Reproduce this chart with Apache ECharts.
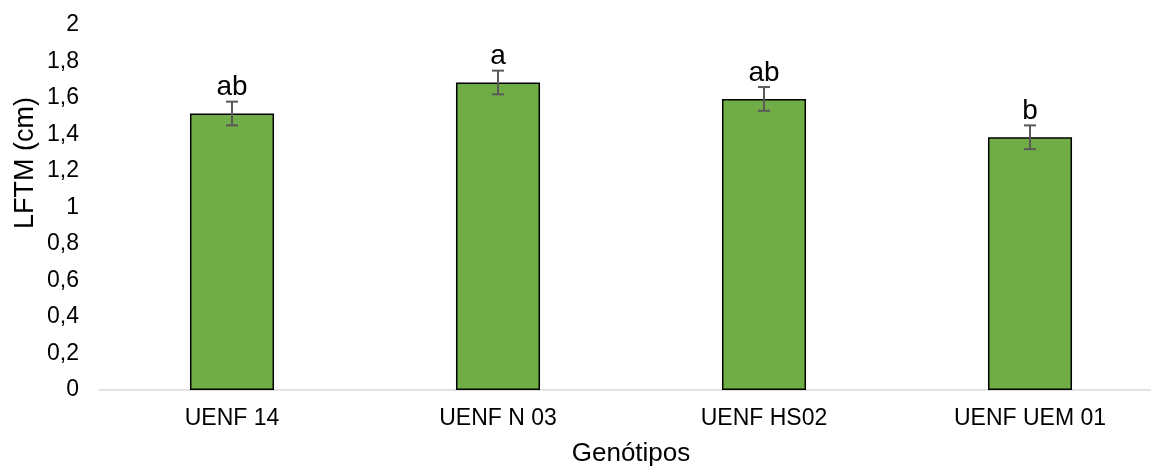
<!DOCTYPE html>
<html><head><meta charset="utf-8">
<script src="https://cdn.jsdelivr.net/npm/echarts@6/dist/echarts.min.js"></script>
<style>html,body{margin:0;padding:0;background:#fff}#c{width:1151px;height:468px}</style>
</head><body><div id="c"></div>
<script>
var categories = ['UENF 14', 'UENF N 03', 'UENF HS02', 'UENF UEM 01'];
var values = [1.515, 1.685, 1.595, 1.385];
var errors = [0.065, 0.065, 0.065, 0.065];
var letters = ['ab', 'a', 'ab', 'b'];

var chart = echarts.init(document.getElementById('c'));
var FONT = 'Liberation Sans, Arial, sans-serif';
chart.setOption({
  animation: false,
  grid: { left: 99, top: 25, width: 1064, height: 365, containLabel: false, outerBoundsMode: 'none' },
  xAxis: {
    type: 'category', data: categories,
    axisLine: { lineStyle: { color: '#d9d9d9', width: 1.5 } },
    axisTick: { show: false },
    axisLabel: { color: '#000', fontSize: 23, fontFamily: FONT, margin: 17 },
    name: 'Genótipos', nameLocation: 'middle', nameGap: 51,
    nameTextStyle: { color: '#000', fontSize: 26, fontFamily: FONT }
  },
  yAxis: {
    type: 'value', min: 0, max: 2, interval: 0.2,
    splitLine: { show: false },
    axisLine: { show: false }, axisTick: { show: false },
    axisLabel: { color: '#000', fontSize: 23, fontFamily: FONT, margin: 20,
      formatter: function (v) { return (Math.round(v * 10) / 10).toString().replace('.', ','); } }
  },
  graphic: [{
    type: 'text', left: 12, top: 97, rotation: Math.PI / 2,
    style: { text: 'LFTM (cm)', fontSize: 27, fontFamily: FONT, fill: '#000' }
  }],
  series: [{
    type: 'bar', data: values, barWidth: '31.6%',
    itemStyle: { color: '#70AD47', borderColor: '#000', borderWidth: 1.5 }
  }, {
    type: 'custom',
    data: values.map(function (v, i) { return [i, v, errors[i]]; }),
    renderItem: function (params, api) {
      var i = api.value(0), v = api.value(1), e = api.value(2);
      var top = api.coord([i, v + e]);
      var bot = api.coord([i, v - e]);
      var x = top[0], hw = 6;
      var st = { stroke: '#595959', lineWidth: 2 };
      return { type: 'group', children: [
        { type: 'line', shape: { x1: x, y1: top[1], x2: x, y2: bot[1] }, style: st },
        { type: 'line', shape: { x1: x - hw, y1: top[1], x2: x + hw, y2: top[1] }, style: st },
        { type: 'line', shape: { x1: x - hw, y1: bot[1], x2: x + hw, y2: bot[1] }, style: st },
        { type: 'text', x: x, y: top[1],
          style: { text: letters[params.dataIndex], fontSize: 28, fontFamily: FONT, fill: '#000',
                   textAlign: 'center', textVerticalAlign: 'bottom' } }
      ]};
    },
    z: 10
  }]
});
</script></body></html>
